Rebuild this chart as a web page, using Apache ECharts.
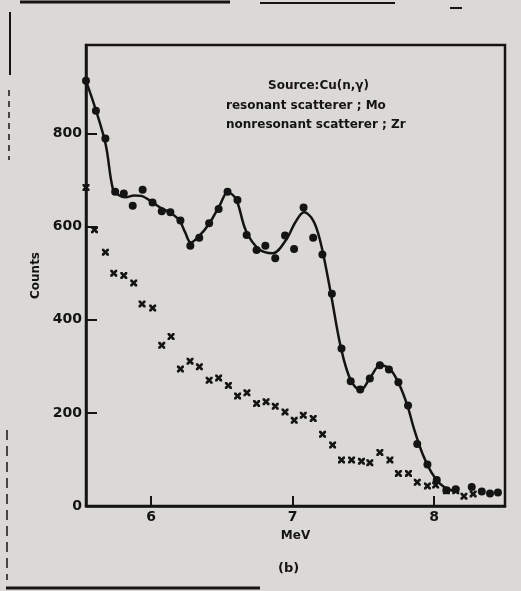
<!DOCTYPE html>
<html>
<head>
<meta charset="utf-8">
<script src="https://cdn.jsdelivr.net/npm/echarts@6/dist/echarts.min.js"></script>
<style>
html,body{margin:0;padding:0;background:#dbd9d5;}
#chart{width:521px;height:591px;}
</style>
</head>
<body>
<div id="chart"></div>
<script>
// Resonant scatterer (Mo) – filled dots
var resonantMeV = [5.54, 5.61, 5.677, 5.746, 5.807, 5.87, 5.94, 6.01, 6.075, 6.136, 6.207, 6.277, 6.34, 6.41, 6.477, 6.54, 6.61, 6.675, 6.745, 6.807, 6.877, 6.946, 7.01, 7.077, 7.145, 7.21, 7.277, 7.345, 7.41, 7.477, 7.545, 7.616, 7.68, 7.747, 7.815, 7.88, 7.952, 8.018, 8.086, 8.152, 8.265, 8.336, 8.394, 8.45];
var resonantCounts = [913, 849, 789, 675, 671, 645, 679, 652, 633, 631, 613, 559, 576, 607, 638, 675, 657, 582, 550, 559, 532, 581, 552, 641, 576, 540, 456, 338, 268, 250, 274, 302, 293, 266, 216, 133, 89, 56, 34, 36, 41, 31, 27, 29];

// Nonresonant scatterer (Zr) – x marks
var nonresMeV = [5.54, 5.6, 5.677, 5.736, 5.807, 5.877, 5.936, 6.011, 6.075, 6.141, 6.207, 6.275, 6.341, 6.41, 6.477, 6.546, 6.611, 6.677, 6.745, 6.812, 6.877, 6.946, 7.011, 7.075, 7.145, 7.211, 7.282, 7.345, 7.416, 7.486, 7.545, 7.616, 7.687, 7.747, 7.818, 7.88, 7.952, 8.01, 8.086, 8.152, 8.21, 8.275];
var nonresCounts = [684, 593, 545, 500, 495, 479, 434, 425, 345, 364, 294, 311, 299, 270, 275, 259, 236, 243, 220, 224, 214, 202, 184, 195, 188, 154, 131, 99, 99, 96, 93, 115, 99, 70, 70, 51, 43, 45, 33, 33, 21, 26];

// Fitted curve through the resonant data
var fitMeV = [5.54, 5.61, 5.68, 5.73, 5.77, 5.82, 5.88, 5.93, 6.01, 6.07, 6.13, 6.2, 6.24, 6.28, 6.34, 6.41, 6.49, 6.54, 6.6, 6.67, 6.76, 6.86, 6.95, 7.02, 7.08, 7.13, 7.17, 7.21, 7.27, 7.34, 7.41, 7.48, 7.55, 7.62, 7.69, 7.75, 7.81, 7.86, 7.92, 7.98, 8.04, 8.1, 8.16];
var fitCounts = [913, 850, 775, 681, 668, 663, 667, 666, 652, 640, 631, 613, 588, 566, 580, 606, 649, 674, 659, 591, 552, 543, 570, 610, 631, 620, 595, 549, 456, 341, 270, 249, 277, 302, 293, 263, 216, 163, 110, 72, 48, 36, 32];

var xTicks = [6, 7, 8];
var yTicks = [0, 200, 400, 600, 800];
var annotation = ['Source:Cu(n,γ)', 'resonant scatterer ; Mo', 'nonresonant scatterer ; Zr'];

function zip(a, b) { return a.map(function (v, i) { return [v, b[i]]; }); }

var ink = '#141414';
var font = 'DejaVu Sans';
var xMark = 'path://M0,0 L3,0 L5,2.5 L7,0 L10,0 L10,3 L7.5,5 L10,7 L10,10 L7,10 L5,7.5 L3,10 L0,10 L0,7 L2.5,5 L0,3 Z';

var chart = echarts.init(document.getElementById('chart'), null, {renderer: 'canvas'});
chart.setOption({
  backgroundColor: '#dbd9d5',
  animation: false,
  grid: {left: 86, right: 16, top: 45, bottom: 85, show: true, borderColor: ink, borderWidth: 2.5, backgroundColor: 'transparent'},
  xAxis: {
    type: 'value', min: 5.54, max: 8.5,
    name: 'MeV', nameLocation: 'middle', nameGap: 24,
    nameTextStyle: {fontFamily: font, fontWeight: 'bold', fontSize: 12, color: ink},
    axisLine: {lineStyle: {color: ink, width: 2.5}},
    axisTick: {inside: true, length: 10, lineStyle: {color: ink, width: 2}, customValues: xTicks},
    axisLabel: {fontFamily: font, fontWeight: 'bold', fontSize: 14, color: ink, margin: 4, customValues: xTicks},
    splitLine: {show: false}
  },
  yAxis: {
    type: 'value', min: 0, max: 990,
    name: 'Counts', nameLocation: 'middle', nameGap: 44, nameRotate: 90,
    nameTextStyle: {fontFamily: font, fontWeight: 'bold', fontSize: 12, color: ink},
    axisLine: {lineStyle: {color: ink, width: 2.5}},
    axisTick: {inside: true, length: 11, lineStyle: {color: ink, width: 2}, customValues: yTicks},
    axisLabel: {fontFamily: font, fontWeight: 'bold', fontSize: 14, color: ink, margin: 4, customValues: yTicks},
    splitLine: {show: false}
  },
  title: {
    text: '(b)', left: 273, top: 557,
    textStyle: {fontFamily: font, fontWeight: 'bold', fontSize: 13, color: ink}
  },
  graphic: [
    {type: 'text', left: 268, top: 80, style: {text: annotation[0], fontFamily: font, fontWeight: 'bold', fontSize: 12, fill: ink}, z: 10},
    {type: 'text', left: 226, top: 100, style: {text: annotation[1], fontFamily: font, fontWeight: 'bold', fontSize: 12, fill: ink}, z: 10},
    {type: 'text', left: 226, top: 119, style: {text: annotation[2], fontFamily: font, fontWeight: 'bold', fontSize: 12, fill: ink}, z: 10},
    {type: 'line', shape: {x1: 20, y1: 2, x2: 230, y2: 2}, style: {stroke: ink, lineWidth: 3}},
    {type: 'line', shape: {x1: 260, y1: 3, x2: 395, y2: 3}, style: {stroke: ink, lineWidth: 2}},
    {type: 'line', shape: {x1: 450, y1: 8, x2: 462, y2: 8}, style: {stroke: ink, lineWidth: 2}},
    {type: 'line', shape: {x1: 10, y1: 12, x2: 10, y2: 75}, style: {stroke: ink, lineWidth: 2}},
    {type: 'line', shape: {x1: 9, y1: 90, x2: 9, y2: 160}, style: {stroke: ink, lineWidth: 1.5, lineDash: [6, 5]}},
    {type: 'line', shape: {x1: 7, y1: 430, x2: 7, y2: 580}, style: {stroke: ink, lineWidth: 1.5, lineDash: [10, 6]}},
    {type: 'line', shape: {x1: 6, y1: 588, x2: 260, y2: 588}, style: {stroke: ink, lineWidth: 3}}
  ],
  series: [
    {
      type: 'line', data: zip(fitMeV, fitCounts), smooth: 0.35, showSymbol: false,
      lineStyle: {color: ink, width: 2.5}, z: 3
    },
    {
      type: 'scatter', data: zip(resonantMeV, resonantCounts), symbol: 'circle', symbolSize: 8,
      itemStyle: {color: ink, opacity: 1}, z: 4
    },
    {
      type: 'scatter', data: zip(nonresMeV, nonresCounts), symbol: xMark, symbolSize: 7,
      itemStyle: {color: ink, opacity: 1}, z: 4
    }
  ]
});
</script>
</body>
</html>
